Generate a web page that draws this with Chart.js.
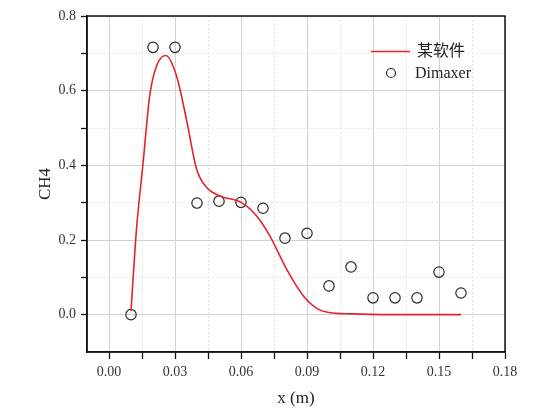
<!DOCTYPE html>
<html>
<head>
<meta charset="utf-8">
<script src="https://cdn.jsdelivr.net/npm/chart.js@4.4.0/dist/chart.umd.min.js"></script>
<style>
  html, body { margin: 0; padding: 0; background: #fff; }
  #wrap { width: 553px; height: 415px; }
</style>
</head>
<body>
<div id="wrap"><canvas id="ch4-chart" width="553" height="415"></canvas></div>
<script>
// simulated curve
const curveX = [0.010, 0.0125, 0.0155, 0.0185, 0.0216, 0.0258, 0.0307, 0.0352, 0.0398, 0.0443, 0.0504, 0.0602, 0.067, 0.0731, 0.0807, 0.0883, 0.095, 0.100, 0.110, 0.130, 0.160];
const curveY = [0.010, 0.229, 0.407, 0.586, 0.666, 0.694, 0.639, 0.523, 0.390, 0.341, 0.318, 0.300, 0.265, 0.211, 0.122, 0.051, 0.015, 0.006, 0.002, 0.000, 0.000];

// measured points
const pointX = [0.01, 0.02, 0.03, 0.04, 0.05, 0.06, 0.07, 0.08, 0.09, 0.10, 0.11, 0.12, 0.13, 0.14, 0.15, 0.16];
const pointY = [0.000, 0.716, 0.716, 0.299, 0.304, 0.301, 0.285, 0.205, 0.218, 0.077, 0.128, 0.045, 0.045, 0.045, 0.114, 0.058];

const seriesNames = ['某软件', 'Dimaxer'];

// ticks: every value gets a grid line, only the labelled ones are major
const xTickValues = [0, 0.015, 0.03, 0.045, 0.06, 0.075, 0.09, 0.105, 0.12, 0.135, 0.15, 0.165, 0.18];
const xTickLabels = ['0.00', '', '0.03', '', '0.06', '', '0.09', '', '0.12', '', '0.15', '', '0.18'];
const yTickValues = [0, 0.1, 0.2, 0.3, 0.4, 0.5, 0.6, 0.7, 0.8];
const yTickLabels = ['0.0', '', '0.2', '', '0.4', '', '0.6', '', '0.8'];

const serif = "'Liberation Serif', 'Times New Roman', 'Noto Sans CJK SC', serif";

function isMinor(labels, ctx) {
    return ctx.index !== undefined && labels[ctx.index] === '';
}

// black box around the plot area
const framePlugin = {
    id: 'frame',
    afterDraw(chart) {
        const { ctx, chartArea: a } = chart;
        ctx.save();
        ctx.strokeStyle = '#111';
        ctx.lineWidth = 1.5;
        ctx.strokeRect(a.left, a.top, a.right - a.left, a.bottom - a.top);
        ctx.restore();
    }
};

// legend placed inside the plot, upper right
const legendPlugin = {
    id: 'insideLegend',
    afterDraw(chart) {
        const { ctx } = chart;
        const ds = chart.data.datasets;
        ctx.save();
        ctx.font = "16px " + serif;
        ctx.textBaseline = 'middle';
        ctx.fillStyle = '#222';
        // line entry
        ctx.strokeStyle = ds[0].borderColor;
        ctx.lineWidth = 1.6;
        ctx.beginPath();
        ctx.moveTo(371, 51.5);
        ctx.lineTo(410, 51.5);
        ctx.stroke();
        ctx.fillText(ds[0].label, 417, 51.5);
        // marker entry
        ctx.strokeStyle = ds[1].borderColor;
        ctx.lineWidth = 1.2;
        ctx.beginPath();
        ctx.arc(391, 73, 4.5, 0, Math.PI * 2);
        ctx.stroke();
        ctx.fillText(ds[1].label, 415, 73.5);
        ctx.restore();
    }
};

new Chart(document.getElementById('ch4-chart').getContext('2d'), {
    type: 'scatter',
    data: {
        datasets: [{
            label: seriesNames[0],
            data: curveX.map((x, i) => ({ x, y: curveY[i] })),
            showLine: true,
            borderColor: '#e3242b',
            borderWidth: 1.6,
            pointRadius: 0,
            cubicInterpolationMode: 'monotone',
            fill: false
        }, {
            label: seriesNames[1],
            data: pointX.map((x, i) => ({ x, y: pointY[i] })),
            showLine: false,
            borderColor: '#2a2a2a',
            backgroundColor: 'rgba(0,0,0,0)',
            borderWidth: 1.2,
            pointRadius: 5.2,
            pointStyle: 'circle'
        }]
    },
    options: {
        responsive: false,
        animation: false,
        layout: { padding: { left: 0, right: 48, top: 16, bottom: 0 } },
        plugins: {
            legend: { display: false },
            tooltip: { enabled: false }
        },
        scales: {
            x: {
                type: 'linear',
                min: -0.01,
                max: 0.18,
                afterBuildTicks: scale => { scale.ticks = xTickValues.map(v => ({ value: v })); },
                afterFit: scale => { scale.height = 63; },
                ticks: {
                    autoSkip: false,
                    maxRotation: 0,
                    padding: 5,
                    color: '#333',
                    font: { family: serif, size: 14 },
                    callback: (v, i) => xTickLabels[i]
                },
                grid: {
                    color: ctx => isMinor(xTickLabels, ctx) ? '#e4e4e4' : '#d2d2d2',
                    lineWidth: 1,
                    tickColor: '#111',
                    tickLength: 7,
                    tickWidth: 1.3
                },
                border: {
                    color: '#111',
                    width: 1.5,
                    dash: ctx => isMinor(xTickLabels, ctx) ? [2, 2] : []
                },
                title: {
                    display: true,
                    text: 'x (m)',
                    color: '#222',
                    font: { family: serif, size: 17 },
                    padding: { top: 6, bottom: 6 }
                }
            },
            y: {
                type: 'linear',
                min: -0.1,
                max: 0.8,
                afterBuildTicks: scale => { scale.ticks = yTickValues.map(v => ({ value: v })); },
                afterFit: scale => { scale.width = 87; },
                ticks: {
                    autoSkip: false,
                    padding: 5,
                    color: '#333',
                    font: { family: serif, size: 14 },
                    callback: (v, i) => yTickLabels[i]
                },
                grid: {
                    color: ctx => isMinor(yTickLabels, ctx) ? '#e4e4e4' : '#d2d2d2',
                    lineWidth: 1,
                    tickColor: '#111',
                    tickLength: 6,
                    tickWidth: 1.3
                },
                border: {
                    color: '#111',
                    width: 1.5,
                    dash: ctx => isMinor(yTickLabels, ctx) ? [2, 2] : []
                },
                title: {
                    display: true,
                    text: 'CH4',
                    color: '#222',
                    font: { family: serif, size: 17 },
                    padding: { top: 35, bottom: 35 }
                }
            }
        }
    },
    plugins: [framePlugin, legendPlugin]
});
</script>
</body>
</html>
